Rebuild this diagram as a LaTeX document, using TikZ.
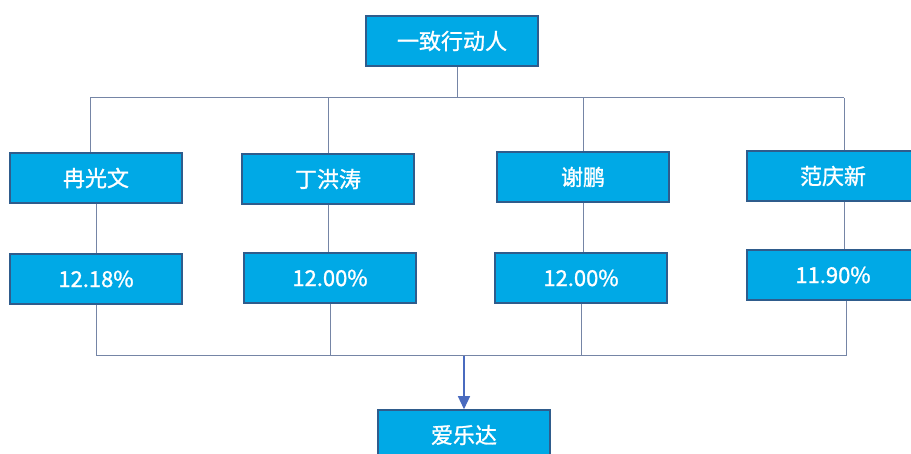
\documentclass[tikz,border=0pt]{standalone}
\usepackage{fontspec}
\setmainfont{Noto Sans CJK SC}
\newfontfamily\boxfont{Noto Sans CJK SC}[FakeBold=1.2]
\usepackage{tikz}
\usetikzlibrary{positioning}
\usetikzlibrary{arrows.meta}
\definecolor{boxblue}{HTML}{00A9E6}
\definecolor{edgeblue}{HTML}{2F5C8C}
\definecolor{linegray}{HTML}{7585A6}
\definecolor{arrowblue}{HTML}{4A6BBF}
\tikzset {
  % blue boxes
  main/.style = {draw=edgeblue, fill=boxblue, line width=1.5pt, minimum width=172pt,
    minimum height=50pt, inner sep=0pt, text=white, font=\boxfont\fontsize{22}{26}\selectfont},
  % thin connectors
  link/.style={draw=linegray, line width=1pt},
  % the one arrow
  flow/.style={arrowblue, line width=1.2pt, -{Triangle[length=13pt,width=12pt]}},
}

\begin{document}
\begin{tikzpicture}[x=1pt, y=-1pt]
        \useasboundingbox (0,0) rectangle (911,454);
        \clip (0,0) rectangle (911,454);

        \node[main] (top) at (452,41) {一致行动人};

        \node[main] (a1) at (96,178) {冉光文};
        \node[main] (a2) at (328,179) {丁洪涛};
        \node[main] (a3) at (583,177) {谢鹏};
        \node[main] (a4) at (833,176) {范庆新};

        \node[main] (b1) at (96,279) {12.18\%};
        \node[main] (b2) at (330,278) {12.00\%};
        \node[main] (b3) at (581,278) {12.00\%};
        \node[main] (b4) at (833,275) {11.90\%};

        \node[main] (bot) at (464,435) {爱乐达};

        % bus lines
        \coordinate (tc) at (457,98);
        \coordinate (hl) at (90,98);
        \coordinate (hr) at (844,98);
        \coordinate (ll) at (96,356);
        \coordinate (lr) at (846,356);

        \draw [link] (top.south -| tc) -- (tc);
        \draw [link] (hl) -- (hr);
        \draw [link] (hl) -- (a1.north -| hl);
        \draw [link] (a2.north) -- (a2.north |- hl);
        \draw [link] (a3.north) -- (a3.north |- hl);
        \draw [link] (hr) -- (a4.north -| hr);

        \draw [link] (a1) -- (b1);
        \draw [link] (a2.south) -- (a2.south |- b2.north);
        \draw [link] (a3.south) -- (a3.south |- b3.north);
        \draw [link] (a4.south -| hr) -- (b4.north -| hr);

        \draw [link] (b1.south) -- (ll);
        \draw [link] (b2.south) -- (b2.south |- ll);
        \draw [link] (b3.south) -- (b3.south |- ll);
        \draw [link] (b4.south -| lr) -- (lr);
        \draw [link] (ll) -- (lr);

        \draw [flow] (bot.north |- ll) -- (bot.north);
      \end{tikzpicture}
\end{document}
